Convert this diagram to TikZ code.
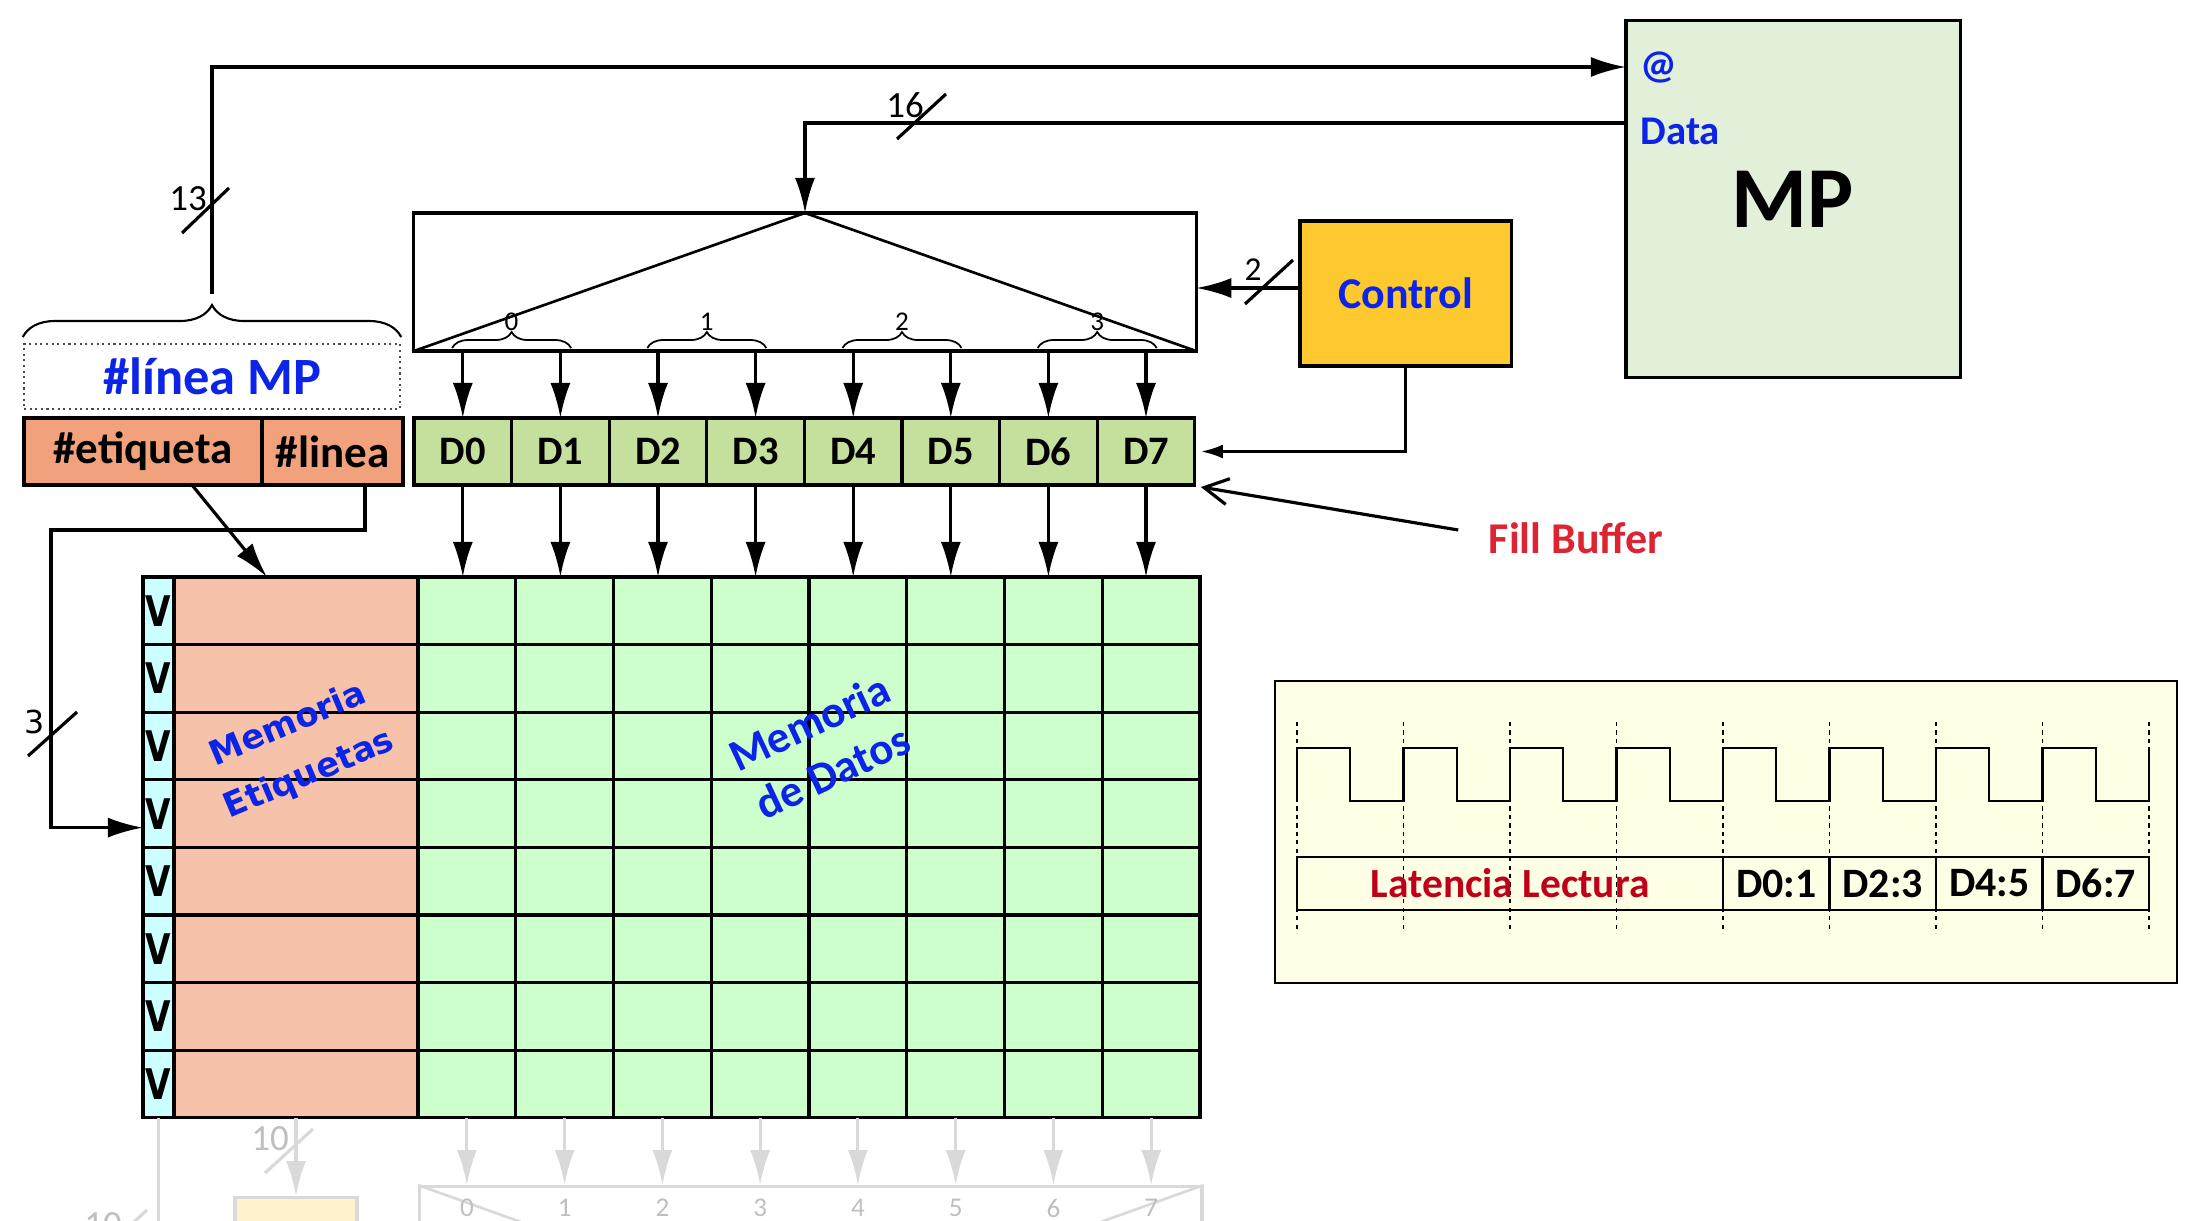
\documentclass[tikz,border=0pt]{standalone}
\usepackage{fontspec}
\usepackage{graphicx}
\setmainfont{Carlito}
\newfontfamily\dejavu{DejaVu Sans}
\usetikzlibrary{arrows.meta,decorations.pathreplacing,calc}
\definecolor{mpg}{HTML}{E2EFD9}
\definecolor{ctl}{HTML}{FDC92F}
\definecolor{fbg}{HTML}{C4E09C}
\definecolor{adr}{HTML}{F1A27C}
\definecolor{tagc}{HTML}{F6C2A9}
\definecolor{vcol}{HTML}{CCFFFF}
\definecolor{datc}{HTML}{CCFFCC}
\definecolor{tim}{HTML}{FFFFE6}
\definecolor{blu}{HTML}{0B24E8}
\definecolor{fbred}{HTML}{DD2433}
\definecolor{latr}{HTML}{C00018}
\definecolor{gl}{HTML}{D9D9D9}
\definecolor{gt}{HTML}{BFBFBF}
\definecolor{ylw}{HTML}{FFF2CC}
\begin{document}
\begin{tikzpicture}[x=0.01cm,y=-0.01cm,
  arr/.style={line width=0.9pt,-{Latex[length=0.35cm,width=0.2cm]}},
  sarr/.style={line width=0.9pt,-{Latex[length=0.22cm,width=0.14cm]}},
  barb/.style={line width=0.9pt,-{Straight Barb[length=0.24cm,width=0.26cm]}},
  cell/.style={draw, line width=0.9pt, inner sep=0pt, outer sep=0pt},
  slash/.style={line width=0.9pt},
  num/.style={font=\fontsize{10.5}{12}\selectfont, inner sep=0pt},
  small/.style={font=\fontsize{7.7}{8}\selectfont, inner sep=0pt},
  brc/.style={decorate, decoration={brace, amplitude=#1}, line width=0.5pt},
  btxt/.style={font=\bfseries\fontsize{#1}{#1}\selectfont}
]
\useasboundingbox (0,0) rectangle (2200,1220);
\fill[white] (0,0) rectangle (2200,1220);

% MP
\node[cell, fill=mpg, minimum width=3.34cm, minimum height=3.56cm, btxt=24.7] (mp) at (1793,199) {MP};
\node[anchor=west, inner sep=0pt, text=blu, btxt=11.6] (at) at (1640,67) {@};
\node[anchor=west, inner sep=0pt, text=blu, btxt=11.6] (data) at (1640,131) {Data};

% Control
\node[cell, fill=ctl, minimum width=2.11cm, minimum height=1.45cm, text=blu, btxt=12.5] (ctrl) at (1405.5,293.5) {Control};

% Mux
\node[cell, minimum width=7.82cm, minimum height=1.38cm] (mux) at (805,282) {};
\draw[line width=0.75pt] (mux.south west) -- (mux.north) -- (mux.south east);

% Fill buffer
\foreach \i in {0,...,7}
  \node[cell, fill=fbg, minimum width=0.976cm, minimum height=0.67cm, btxt=11.5] (d\i) at ({462.8+97.6*\i},451.5) {D\i};

% Address
\node[cell, fill=adr, minimum width=2.38cm, minimum height=0.67cm, btxt=12.8] (etq) at (143,451.5) {\#etiqueta};
\node[cell, fill=adr, minimum width=1.41cm, minimum height=0.67cm, btxt=12.8] (lin) at (332.5,451.5) {\#linea};
\node[draw=black!70, densely dotted, line width=0.6pt, minimum width=3.76cm, minimum height=0.65cm, text=blu, btxt=14.9, inner sep=0pt] (lmp) at (212,376.5) {\#línea MP};
\draw[brc=0.32cm, line width=0.6pt] (lmp.north west |- 0,337) -- (lmp.north east |- 0,337);
\coordinate (btip) at (212,294);

% top connections
\draw[arr] (btip) |- (mp.west |- 0,67);
\draw[slash] (182,233) -- (229,188);
\node[num] at (188,199) {13};
\draw[arr] (mp.west |- 0,123) -| (mux.north);
\draw[slash] (897,139) -- (946,94);
\node[num] at (905,105) {16};

% control
\draw[arr] (ctrl.west |- 0,288) -- (mux.east |- 0,288);
\draw[slash] (1245,304) -- (1293,260);
\node[num, font=\fontsize{9.5}{10}\selectfont] at (1253,270) {2};
\draw[sarr] (ctrl.south) |- ([xshift=0.06cm]d7.east);

% mux outputs
\foreach \i in {0,...,7}
  \draw[arr] (d\i.north |- mux.south) -- (d\i.north);
\foreach \k in {0,...,3} {
  \draw[brc=0.16cm] ({511.6+195.2*\k-59.5},348) -- ({511.6+195.2*\k+59.5},348);
  \node[small, anchor=south] at ({511.6+195.2*\k},331) {\k};
}

% Cache
\foreach \r in {0,...,7} {
  \node[cell, fill=vcol, minimum width=0.31cm, minimum height=0.676cm, font=\dejavu\bfseries\fontsize{12}{12}\selectfont] (v\r) at (158.5,{610.8+67.6*\r}) {\scalebox{0.78}[1]{V}};
  \node[cell, fill=tagc, minimum width=2.44cm, minimum height=0.676cm] (t\r) at (296,{610.8+67.6*\r}) {};
  \foreach \i in {0,...,7}
    \node[cell, fill=datc, minimum width=0.9775cm, minimum height=0.676cm] (c\r-\i) at ({466.9+97.75*\i},{610.8+67.6*\r}) {};
}
\foreach \i in {0,...,7}
  \draw[arr] (d\i.south) -- (d\i.south |- c0-\i.north);

\node[rotate=23, align=center, text=blu, font=\dejavu\bfseries\fontsize{9.6}{15.4}\selectfont] (me) at (299,750) {Memoria\\Etiquetas};
\node[rotate=25, align=center, text=blu, font=\bfseries\fontsize{12.8}{15.5}\selectfont] (md) at (821,747) {Memoria\\de Datos};

% address links
\draw[arr] ([xshift=0.49cm]etq.south) -- ([xshift=-0.29cm]t0.north);
\coordinate (lnk) at (51,530);
\draw[arr] ([xshift=0.325cm]lin.south) |- (lnk) |- ([yshift=-0.14cm]v3.west);
\draw[slash] (28,756) -- (77,712);
\node[inner sep=0pt, font=\dejavu\fontsize{9}{10}\selectfont] at (35,722) {3};

% Fill buffer label
\node[text=fbred, btxt=12.5, inner sep=0pt] (fbl) at (1576,538) {Fill Buffer};
\draw[barb] ([shift={(-30,-8)}]fbl.west) -- ([shift={(6,2)}]d7.south east);

% Timing
\node[draw, line width=0.6pt, fill=tim, minimum width=9.02cm, minimum height=3.02cm] (tbox) at (1726,832) {};
\foreach \k in {0,...,8}
  \draw[line width=0.4pt, dash pattern=on 1.2pt off 1.2pt] ({1297+106.5*\k},722) -- ({1297+106.5*\k},933);
\draw[line width=0.6pt] (1297,801) \foreach \k in {0,...,7} { -- ({1297+106.5*\k},748) -- ({1297+106.5*\k+53.25},748) -- ({1297+106.5*\k+53.25},801) -- ({1297+106.5*(\k+1)},801) } -- (2149,748);
\node[draw, line width=0.6pt, inner sep=0pt, minimum width=4.26cm, minimum height=0.53cm, text=latr, btxt=11.8] (lat) at (1510,883.5) {Latencia Lectura};
\foreach \j/\t in {0/D0:1,1/D2:3,2/D4:5,3/D6:7}
  \node[draw, line width=0.6pt, inner sep=0pt, minimum width=1.065cm, minimum height=0.53cm, btxt=11.9] (b\j) at ({1297+106.5*(4.5+\j)},883.5) {\t};

% faded lower part
\node[draw=gl, line width=0.9pt, fill=ylw, minimum width=1.22cm, minimum height=0.5cm, anchor=north] (ybox) at (296,1196) {};
\draw[gl, arr] (t7.south) -- (ybox.north);
\draw[gl, slash] (265,1173) -- (313,1129);
\node[num, text=gt] at (270,1139) {10};
\node[draw=gl, line width=0.9pt, minimum width=7.82cm, minimum height=1.38cm, anchor=north west] (lmux) at (418,1185) {};
\draw[gl, line width=0.75pt] (lmux.north west) -- (lmux.south) -- (lmux.north east);
\foreach \i in {0,...,7} {
  \draw[gl, arr] (c7-\i.south) -- (c7-\i.south |- lmux.north);
  \node[small, text=gt] at ({466.9+97.75*\i},1208) {\i};
}
\draw[gl, line width=0.9pt] (v7.south) -- ++(0,120);
\draw[gl, slash] (99,1254) -- (147,1210);
\node[num, text=gt, anchor=north] at (103,1212) {10};
\end{tikzpicture}
\end{document}
